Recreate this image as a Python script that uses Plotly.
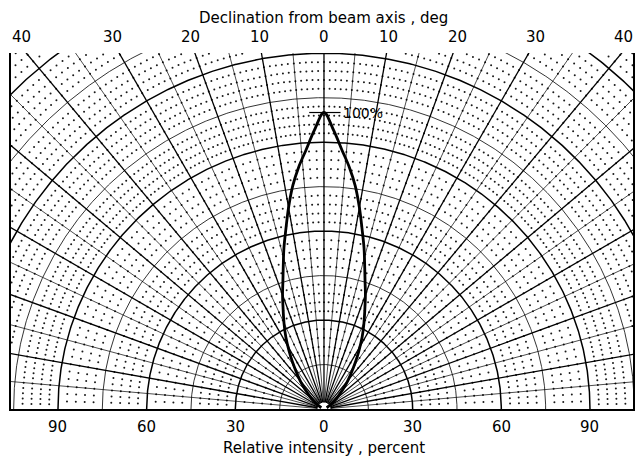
import numpy as np
import plotly.graph_objects as go

# ---- data: beam pattern (declination angle in deg, relative intensity in %) ----
beam_angle_deg = [-65, -55, -47, -42, -38, -34, -31, -28, -25, -22, -20, -18, -16, -14,
                  -12, -10, -8, -6, -4, -2, 0, 2, 4, 6, 8, 10, 12, 14, 16, 18, 20, 22,
                  25, 28, 31, 34, 38, 42, 47, 55, 65]
beam_intensity_pct = [1, 3.5, 7, 11, 14.5, 19, 23, 27.5, 32, 37, 41, 45, 50, 56,
                      62, 69, 76, 82, 87.5, 94, 100, 94, 87.5, 82, 76, 69, 62, 56, 50, 45, 41, 37,
                      32, 27.5, 23, 19, 14.5, 11, 7, 3.5, 1]

# ---- tick labels ----
top_tick_deg = [-40, -30, -20, -10, 0, 10, 20, 30, 40]
top_tick_text = ["40", "30", "20", "10", "0", "10", "20", "30", "40"]
bottom_tick_pos = [-90, -60, -30, 0, 30, 60, 90]
bottom_tick_text = ["90", "60", "30", "0", "30", "60", "90"]
peak_label = "100%"
title_top = "Declination from beam axis , deg"
title_bottom = "Relative intensity , percent"

# ---- grid spec (polar graph paper) ----
circle_step = 15          # solid circles every 15 %
dot_ring_step = 3         # dotted circles every 3 %
ray_step = 5              # rays every 5 deg
X_RANGE = [-105.9, 104.56]
Y_RANGE = [0, 120.07]
FONT = "DejaVu Sans"


def polar_xy(r, deg):
    t = np.radians(deg)
    return r * np.sin(t), r * np.cos(t)


fig = go.Figure()

# dotted lattice
dx, dy = [], []
band_step = {1: 5, 2: 2.5, 3: 2.5, 4: 5 / 3, 5: 5 / 3}
for r in range(dot_ring_step, 162, dot_ring_step):
    if r % circle_step == 0 or r < circle_step:
        continue
    band = r // circle_step
    step = band_step.get(band, 1.0)
    n = int(round(180 / step))
    ang = np.linspace(-90, 90, n + 1)
    x, y = polar_xy(r, ang)
    m = (x >= X_RANGE[0]) & (x <= X_RANGE[1]) & (y <= Y_RANGE[1]) & (y > 0.3)
    dx.extend(x[m].tolist())
    dy.extend(y[m].tolist())
fig.add_trace(go.Scatter(x=dx, y=dy, mode="markers",
                         marker=dict(size=2, color="#1a1a1a"),
                         hoverinfo="skip", showlegend=False))

# circles
theta = np.linspace(-90, 90, 721)
for major in (False, True):
    cx, cy = [], []
    for k in range(1, 11):
        if (k % 2 == 0) != major:
            continue
        x, y = polar_xy(k * circle_step, theta)
        cx.extend(x.tolist() + [None])
        cy.extend(y.tolist() + [None])
    fig.add_trace(go.Scatter(x=cx, y=cy, mode="lines",
                             line=dict(color="black", width=1.5 if major else 0.8),
                             hoverinfo="skip", showlegend=False))

# rays
for major in (False, True):
    rx, ry = [], []
    for a in range(-85, 90, ray_step):
        if (a % 10 == 0) != major:
            continue
        x, y = polar_xy(np.array([2.4, 180.0]), a)
        rx.extend(x.tolist() + [None])
        ry.extend(y.tolist() + [None])
    fig.add_trace(go.Scatter(x=rx, y=ry, mode="lines",
                             line=dict(color="black", width=1.3 if major else 0.7),
                             hoverinfo="skip", showlegend=False))

# small hub arc at origin
hx, hy = polar_xy(2.4, theta)
fig.add_trace(go.Scatter(x=hx, y=hy, mode="lines", line=dict(color="black", width=1),
                         hoverinfo="skip", showlegend=False))

# beam pattern
bx, by = polar_xy(np.array(beam_intensity_pct, float), np.array(beam_angle_deg, float))
fig.add_trace(go.Scatter(x=bx, y=by, mode="lines",
                         line=dict(color="black", width=2.8, shape="spline", smoothing=1.0),
                         hoverinfo="skip", showlegend=False))

# 100% marker
fig.add_trace(go.Scatter(x=[-5, 5.6], y=[100, 100], mode="lines",
                         line=dict(color="black", width=1.2),
                         hoverinfo="skip", showlegend=False))

txt = dict(family=FONT, size=15, color="black")
ann = []
ann.append(dict(x=5.6, y=100, text=peak_label, xanchor="left", yanchor="middle",
                showarrow=False, font=dict(family=FONT, size=14, color="black")))
for d, t in zip(top_tick_deg, top_tick_text):
    xpos = float(np.clip(124 * np.tan(np.radians(d)), -102.5, 101.5))
    ann.append(dict(x=xpos, y=1.045, xref="x", yref="paper",
                    text=t, xanchor="center", yanchor="middle", showarrow=False, font=txt))
for p, t in zip(bottom_tick_pos, bottom_tick_text):
    ann.append(dict(x=p, y=-0.051, xref="x", yref="paper", text=t, xanchor="center",
                    yanchor="middle", showarrow=False, font=txt))
ann.append(dict(x=0, y=1.098, xref="x", yref="paper", text=title_top, xanchor="center",
                yanchor="middle", showarrow=False, font=txt))
ann.append(dict(x=0, y=-0.11, xref="x", yref="paper", text=title_bottom, xanchor="center",
                yanchor="middle", showarrow=False, font=txt))

fig.update_layout(
    width=636, height=458, autosize=False,
    margin=dict(l=11, r=1, t=53, b=49),
    paper_bgcolor="white", plot_bgcolor="white",
    annotations=ann,
    xaxis=dict(range=X_RANGE, showgrid=False, zeroline=False, showticklabels=False,
               ticks="", showline=True, linecolor="black", linewidth=1.5, mirror=False),
    yaxis=dict(range=Y_RANGE, showgrid=False, zeroline=False, showticklabels=False,
               ticks="", showline=True, linecolor="black", linewidth=1.5, mirror=True),
)

fig.write_html("out.html", config={"displayModeBar": False},
               post_script="document.body.style.margin='0';")
